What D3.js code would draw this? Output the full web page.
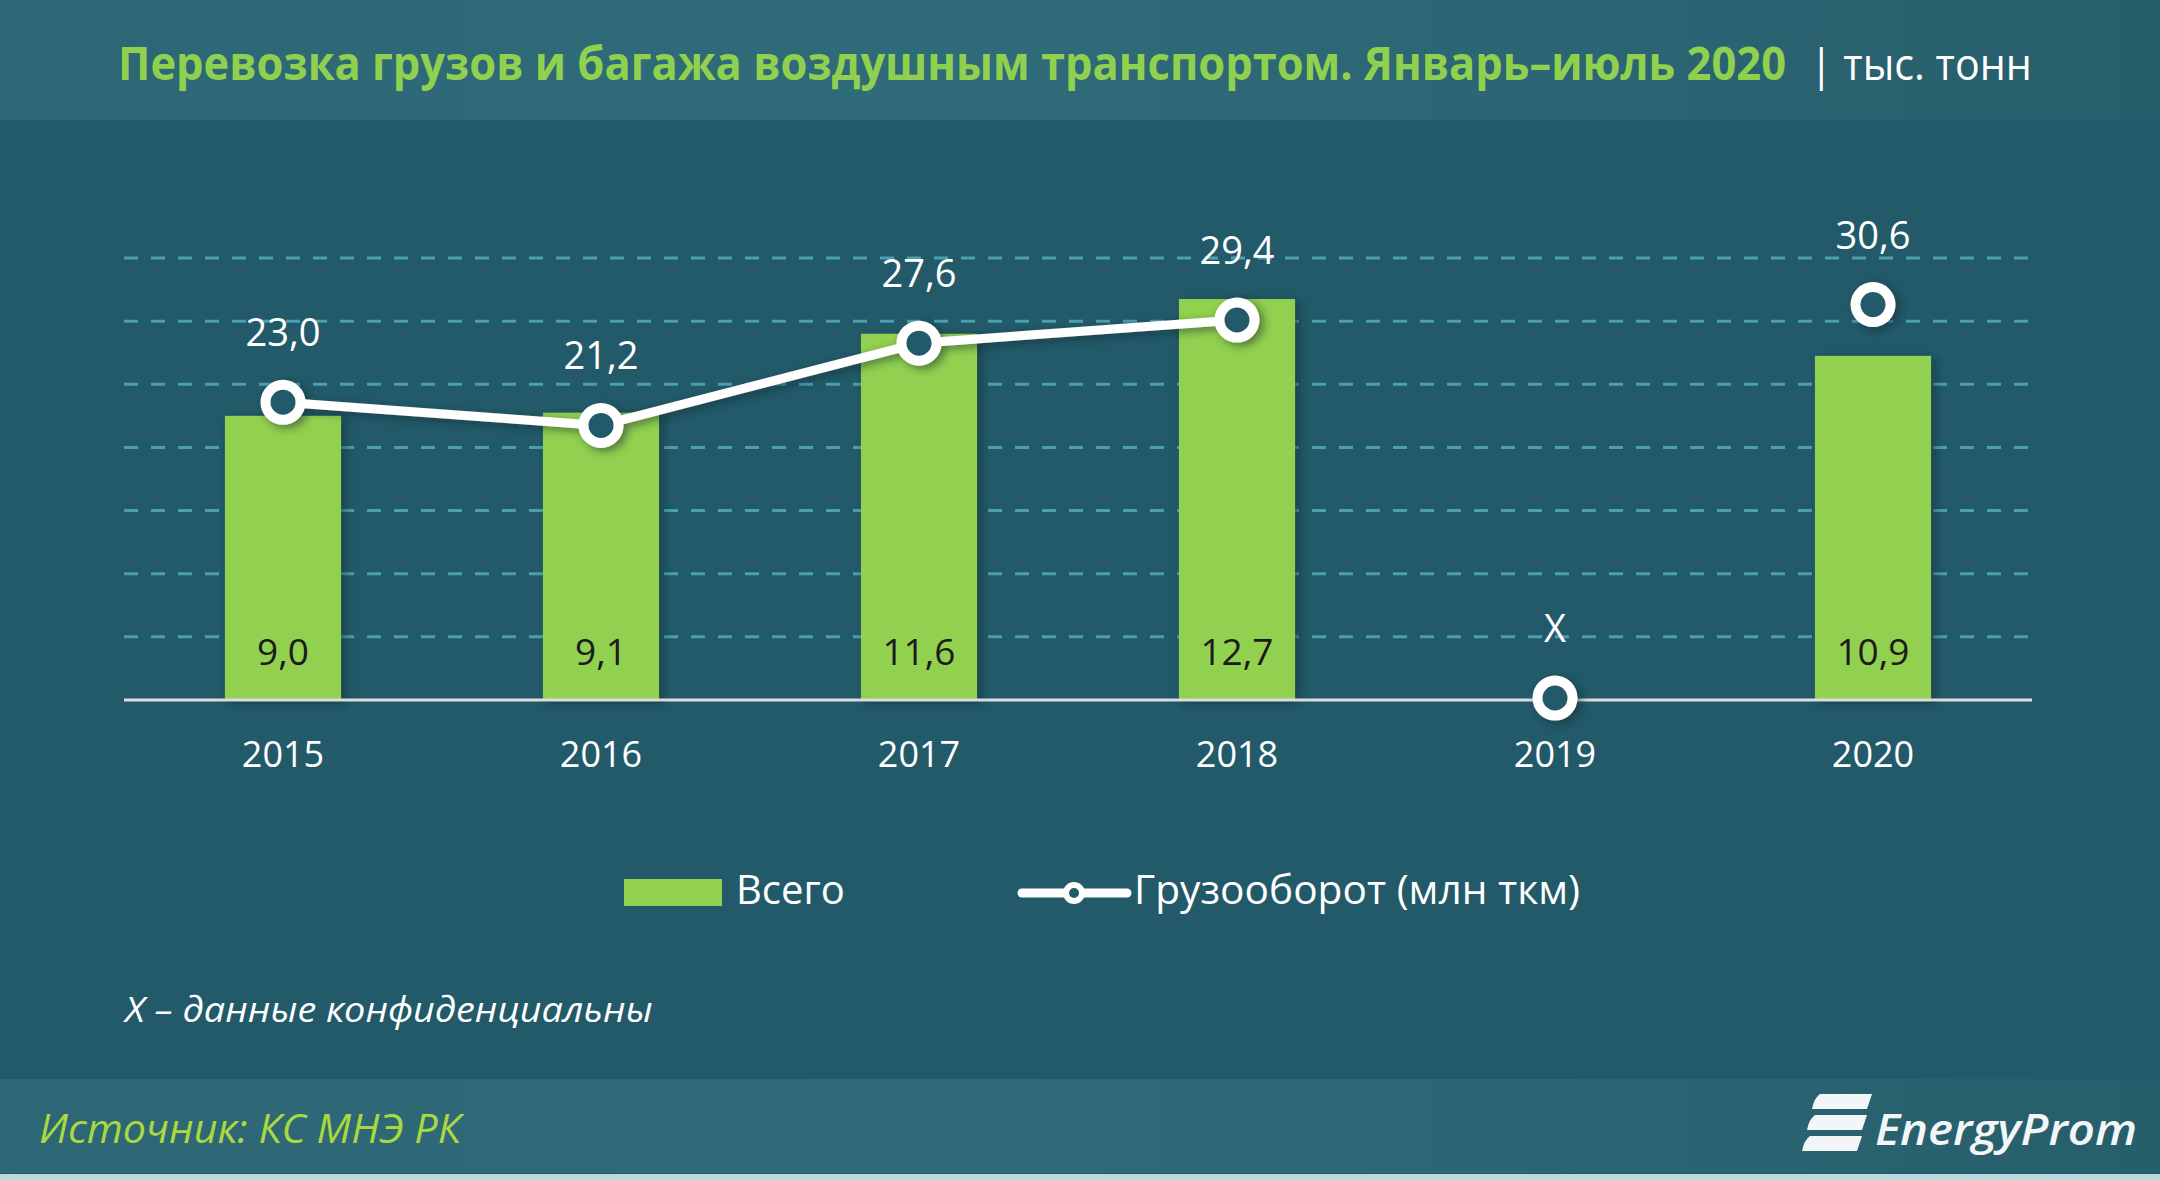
<!DOCTYPE html>
<html>
<head>
<meta charset="utf-8">
<script src="https://cdn.jsdelivr.net/npm/d3@7/dist/d3.min.js"></script>
<style>
  html, body { margin: 0; padding: 0; background: #225a69; }
  svg { display: block; }
</style>
</head>
<body>
<svg id="chart" width="2160" height="1180"></svg>
<script>
// ---------- DATA ----------
const years = ["2015", "2016", "2017", "2018", "2019", "2020"];
const totalTonnes = [9.0, 9.1, 11.6, 12.7, null, 10.9];          // Всего, тыс. тонн
const cargoTurnover = [23.0, 21.2, 27.6, 29.4, null, 30.6];      // Грузооборот, млн ткм (2019 — X)
const confidentialMark = "X";
const legendLabels = ["Всего", "Грузооборот (млн ткм)"];
const titleText = "Перевозка грузов и багажа  воздушным транспортом. Январь–июль 2020";
const unitText = "| тыс. тонн";
const footnoteText = "X – данные конфиденциальны";
const sourceText = "Источник: КС МНЭ РК";
const logoText = "EnergyProm";

// ---------- SETUP ----------
const W = 2160, H = 1180;
const svg = d3.select("#chart");
const defs = svg.append("defs");
const FONT = "'Open Sans', 'Noto Sans', sans-serif";
const fmt = v => d3.format(".1f")(v).replace(".", ",");

// place a text at (x, y) and squeeze it horizontally to a target width
function fitText(sel, x, y, width) {
  sel.attr("x", 0).attr("y", 0);
  const w = sel.node().getComputedTextLength();
  const sx = width / w;
  sel.attr("transform", `translate(${x},${y}) scale(${sx},1)`);
  return sel;
}

const gTitle = defs.append("linearGradient").attr("id", "bandGrad").attr("x1", 0).attr("x2", 1);
gTitle.append("stop").attr("offset", 0).attr("stop-color", "#2d6776");
gTitle.append("stop").attr("offset", 0.45).attr("stop-color", "#306b7a");
gTitle.append("stop").attr("offset", 1).attr("stop-color", "#275e6c");

const shadow = defs.append("filter").attr("id", "shadow")
  .attr("x", "-30%").attr("y", "-30%").attr("width", "160%").attr("height", "160%");
shadow.append("feDropShadow").attr("dx", 4).attr("dy", 3).attr("stdDeviation", 4)
  .attr("flood-color", "#0b2a33").attr("flood-opacity", 0.55);

// backgrounds
svg.append("rect").attr("width", W).attr("height", H).attr("fill", "#225a69");
svg.append("rect").attr("width", W).attr("height", 120).attr("fill", "url(#bandGrad)");
svg.append("rect").attr("y", 1079).attr("width", W).attr("height", 94).attr("fill", "url(#bandGrad)");
svg.append("rect").attr("y", 1174).attr("width", W).attr("height", 6).attr("fill", "#b9d9de");

// ---------- TITLE ----------
fitText(svg.append("text")
  .attr("font-family", FONT).attr("font-weight", 700).attr("font-size", 46)
  .attr("fill", "#8fd14f").text(titleText), 118, 80, 1668);
fitText(svg.append("text")
  .attr("font-family", FONT).attr("font-size", 44).attr("fill", "#ffffff")
  .text(unitText), 1810, 80, 222);

// ---------- SCALES ----------
const x = d3.scaleBand().domain(years).range([124, 2032]).paddingInner(0.635).paddingOuter(0.3175);
const y = d3.scaleLinear().domain([0, 14]).range([700, 258]);
const y2 = d3.scaleLinear().domain([0, 35]).range([698, 248]);
const cx = d => x(d) + x.bandwidth() / 2;

// gridlines
const grid = svg.append("g");
grid.selectAll("line").data(y.ticks(7).filter(t => t > 0)).join("line")
  .attr("x1", 124).attr("x2", 2032)
  .attr("y1", d => y(d)).attr("y2", d => y(d))
  .attr("stroke", "#4a9fb1").attr("stroke-width", 3).attr("stroke-dasharray", "14 13");

// bars
const barData = years.map((yr, i) => ({ yr, v: totalTonnes[i] })).filter(d => d.v != null);
svg.append("g").attr("filter", "url(#shadow)")
  .selectAll("rect").data(barData).join("rect")
  .attr("x", d => x(d.yr)).attr("width", x.bandwidth())
  .attr("y", d => y(d.v)).attr("height", d => y(0) - y(d.v))
  .attr("fill", "#92d050");

// x axis baseline + labels
const xAxis = d3.axisBottom(x).tickSize(0).tickPadding(0);
const gx = svg.append("g").attr("transform", `translate(0,${y(0)})`).call(xAxis);
gx.select(".domain").attr("stroke", "#dcdcdc").attr("stroke-width", 3)
  .attr("d", `M124,0H2032`);
gx.selectAll(".tick text")
  .attr("y", 67).attr("dy", 0)
  .attr("font-family", FONT).attr("font-size", 36).attr("fill", "#ffffff");

// bar value labels
svg.append("g").selectAll("text").data(barData).join("text")
  .attr("x", d => cx(d.yr)).attr("y", y(0) - 35)
  .attr("text-anchor", "middle")
  .attr("font-family", FONT).attr("font-size", 37).attr("fill", "#1b1b1b")
  .text(d => fmt(d.v));

// line
const lineData = years.map((yr, i) => ({ yr, v: cargoTurnover[i] }));
const firstGap = lineData.findIndex(d => d.v == null);
const lineGen = d3.line().x(d => cx(d.yr)).y(d => y2(d.v));
const gLine = svg.append("g").attr("filter", "url(#shadow)");
gLine.append("path").datum(lineData.slice(0, firstGap))
  .attr("d", lineGen).attr("fill", "none")
  .attr("stroke", "#ffffff").attr("stroke-width", 9).attr("stroke-linejoin", "round");
gLine.selectAll("circle").data(lineData).join("circle")
  .attr("cx", d => cx(d.yr)).attr("cy", d => y2(d.v == null ? 0 : d.v))
  .attr("r", 17.5).attr("fill", "#225a69")
  .attr("stroke", "#ffffff").attr("stroke-width", 10);

// line labels
svg.append("g").selectAll("text").data(lineData).join("text")
  .attr("x", d => cx(d.yr)).attr("y", d => y2(d.v == null ? 0 : d.v) - 56)
  .attr("text-anchor", "middle")
  .attr("font-family", FONT).attr("font-size", 38).attr("fill", "#ffffff")
  .text(d => d.v == null ? confidentialMark : fmt(d.v));

// ---------- LEGEND ----------
const lg = svg.append("g");
lg.append("rect").attr("x", 624).attr("y", 879).attr("width", 98).attr("height", 27).attr("fill", "#92d050");
lg.append("text").attr("x", 736).attr("y", 904)
  .attr("font-family", FONT).attr("font-size", 40).attr("fill", "#ffffff").text(legendLabels[0]);
lg.append("line").attr("x1", 1022).attr("x2", 1127).attr("y1", 893).attr("y2", 893)
  .attr("stroke", "#ffffff").attr("stroke-width", 9).attr("stroke-linecap", "round");
lg.append("circle").attr("cx", 1074).attr("cy", 893).attr("r", 8)
  .attr("fill", "#225a69").attr("stroke", "#ffffff").attr("stroke-width", 6);
fitText(lg.append("text")
  .attr("font-family", FONT).attr("font-size", 40).attr("fill", "#ffffff")
  .text(legendLabels[1]), 1134, 904, 446);

// ---------- FOOTNOTE / SOURCE ----------
fitText(svg.append("text")
  .attr("font-family", FONT).attr("font-style", "italic").attr("font-size", 35).attr("fill", "#ffffff")
  .text(footnoteText), 125, 1022, 528);
fitText(svg.append("text")
  .attr("font-family", FONT).attr("font-style", "italic").attr("font-size", 40).attr("fill", "#a9d83f")
  .text(sourceText), 39, 1143, 422);

// ---------- LOGO ----------
const logo = svg.append("g");
const stripes = [
  { x: 1812, y: 1094 }, { x: 1807, y: 1115 }, { x: 1802, y: 1136 }
];
logo.selectAll("path").data(stripes).join("path")
  .attr("d", d => `M${d.x + 8},${d.y} L${d.x + 60},${d.y} L${d.x + 55},${d.y + 15} L${d.x},${d.y + 15} Q${d.x + 2},${d.y + 4} ${d.x + 8},${d.y} Z`)
  .attr("fill", "#f2f6f7");
fitText(logo.append("text")
  .attr("font-family", FONT).attr("font-style", "italic").attr("font-weight", 600)
  .attr("font-size", 44).attr("fill", "#f2f6f7")
  .text(logoText), 1875, 1145, 262);
</script>
</body>
</html>
